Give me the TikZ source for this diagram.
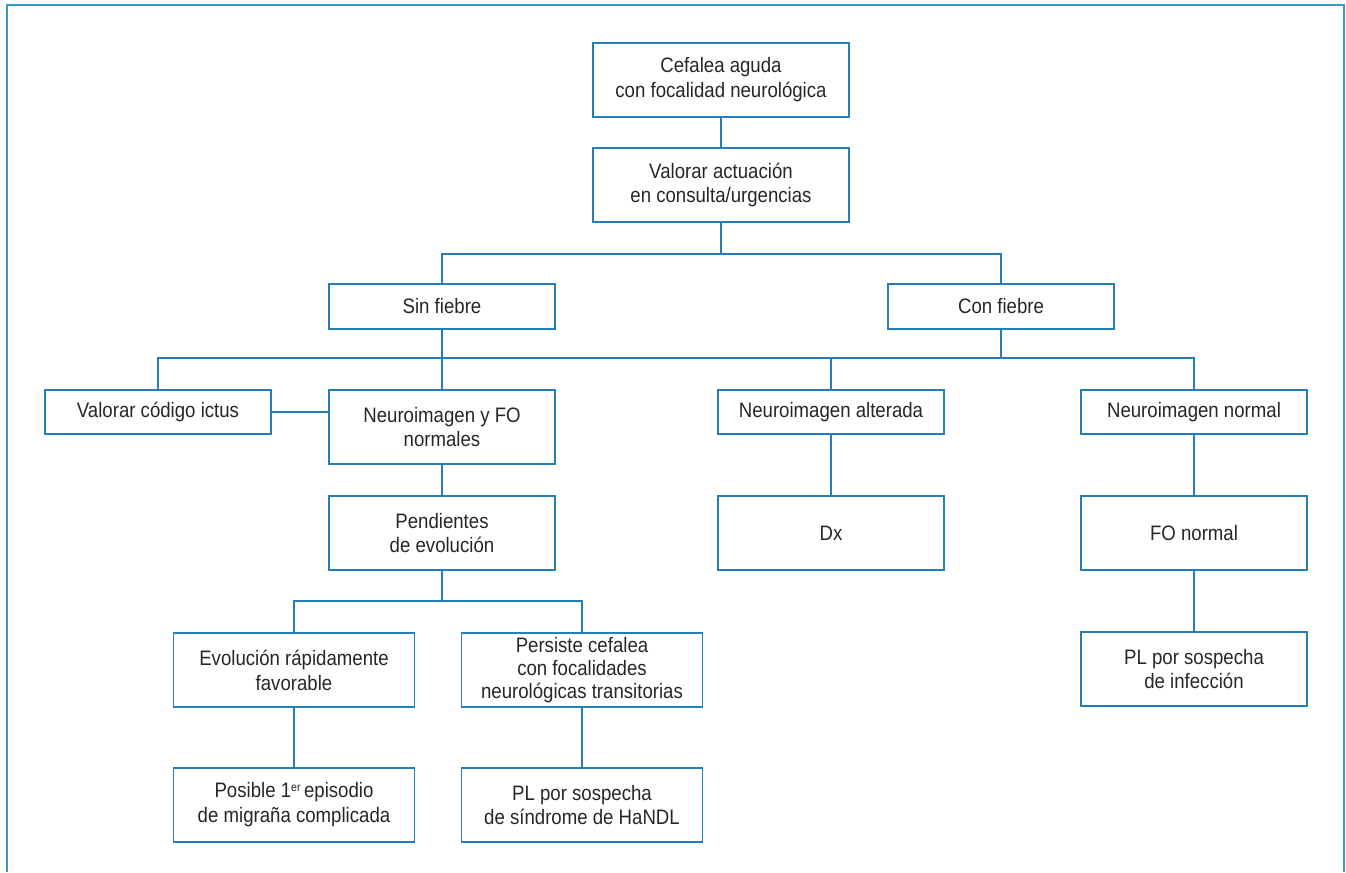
\documentclass[tikz,border=0pt]{standalone}
\usepackage{fontspec}
\setmainfont{Liberation Sans}[FakeStretch=0.89]
\definecolor{boxblue}{RGB}{35,125,182}
\definecolor{frameblue}{RGB}{60,150,202}
\definecolor{txtgray}{RGB}{38,38,38}
\newcommand{\supr}[1]{\raisebox{0.3em}{\fontsize{12}{12}\selectfont #1}}
\tikzset{
  box/.style={draw=boxblue, line width=1.3bp, rectangle, inner sep=0pt,
    align=center, text=txtgray, font=\fontsize{21}{25}\selectfont,
    minimum width=226bp, minimum height=74bp},
  lowbox/.style={box, minimum height=44bp},
  widebox/.style={box, minimum width=241bp},
  conn/.style={draw=boxblue, line width=1.3bp}
}
\begin{document}
\begin{tikzpicture}[x=1bp,y=-1bp]
\useasboundingbox (0,0) rectangle (1346,872);
\draw[frameblue, line width=1.6bp] (7,872) -- (7,5) -- (1344,5) -- (1344,872);

\node[box, minimum width=256bp] (c1) at (721,80) {Cefalea aguda\\con focalidad neurológica};
\node[box, minimum width=256bp] (c2) at (721,185) {Valorar actuación\\en consulta/urgencias};
\node[lowbox, minimum height=45bp] (sin) at (442,306.5) {Sin fiebre};
\node[lowbox, minimum height=45bp] (con) at (1001,306.5) {Con fiebre};
\node[lowbox] (ictus) at (158,412) {Valorar código ictus};
\node[box] (neuro) at (442,427) {Neuroimagen y FO\\normales};
\node[lowbox] (alt) at (831,412) {Neuroimagen alterada};
\node[lowbox] (nor) at (1194,412) {Neuroimagen normal};
\node[box] (pend) at (442,533) {Pendientes\\de evolución};
\node[box] (dx) at (831,533) {Dx};
\node[box] (fo) at (1194,533) {FO normal};
\node[widebox] (evol) at (294,670) {Evolución rápidamente\\favorable};
\node[widebox, font=\fontsize{21}{23.5}\selectfont] (pers) at (582,670) {Persiste cefalea\\con focalidades\\neurológicas transitorias};
\node[box] (plinf) at (1194,669) {PL por sospecha\\de infección};
\node[widebox] (pos) at (294,805) {Posible 1\supr{er}\,episodio\\de migraña complicada};
\node[widebox] (plh) at (582,805) {PL por sospecha\\de síndrome de HaNDL};

\coordinate (b1) at (721,254);
\coordinate (b2) at (442,358);
\coordinate (b3) at (442,601);

\draw[conn] (c1) -- (c2);
\draw[conn] (c2) -- (b1);
\draw[conn] (sin.north) |- (b1) -| (con.north);
\draw[conn] (sin) -- (neuro);
\draw[conn] (ictus.north) |- (b2) -| (nor.north);
\draw[conn] (con.south) -- (con.south |- b2);
\draw[conn] (alt.north) -- (alt.north |- b2);
\draw[conn] (ictus.east) -- (ictus.east -| neuro.west);
\draw[conn] (neuro) -- (pend);
\draw[conn] (alt) -- (dx);
\draw[conn] (nor) -- (fo);
\draw[conn] (fo) -- (plinf);
\draw[conn] (pend) -- (b3);
\draw[conn] (evol.north) |- (b3) -| (pers.north);
\draw[conn] (evol) -- (pos);
\draw[conn] (pers) -- (plh);
\end{tikzpicture}
\end{document}
